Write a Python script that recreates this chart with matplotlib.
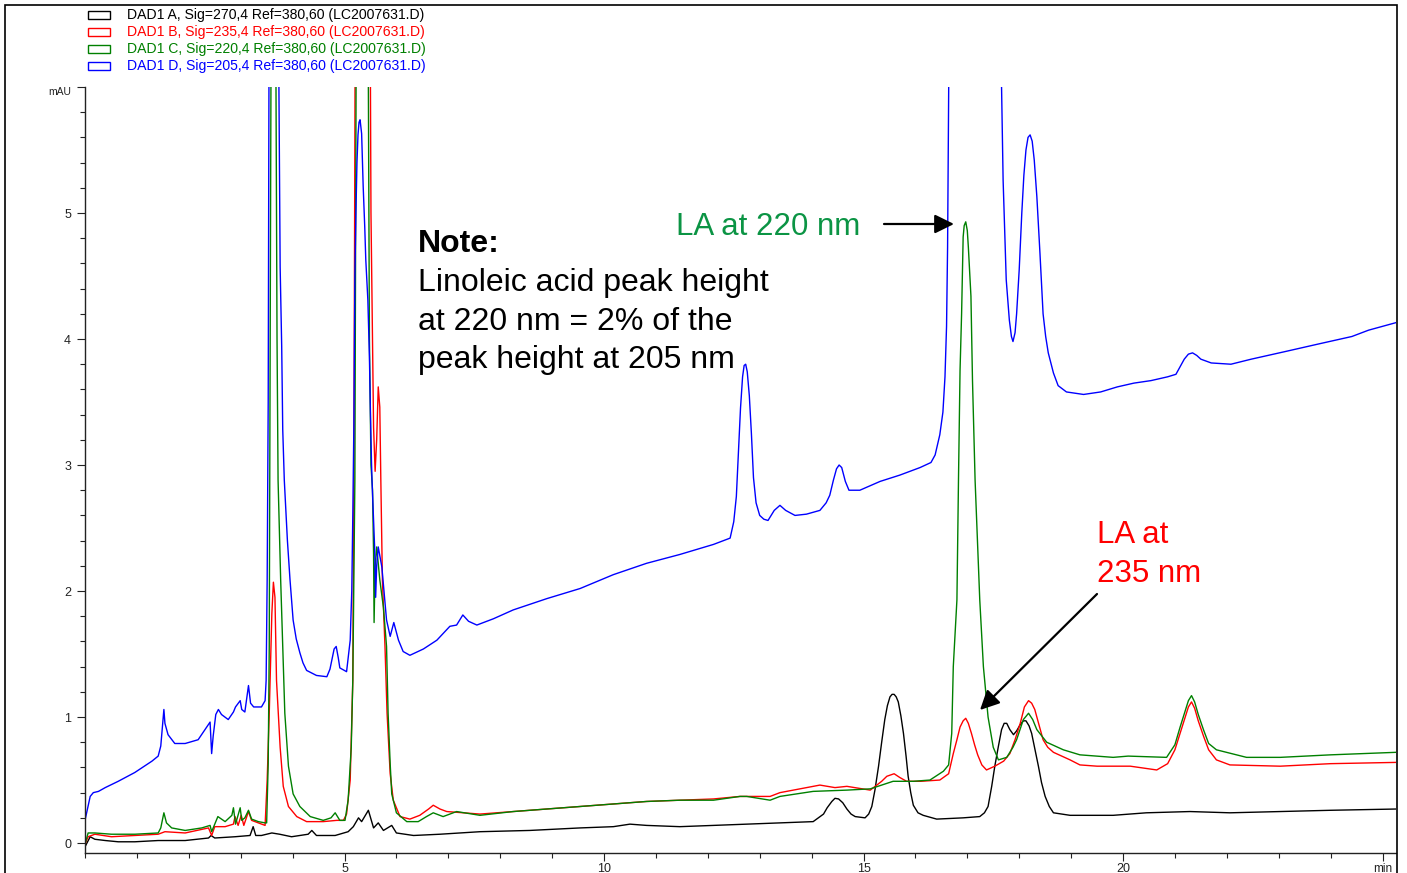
import matplotlib
matplotlib.use("Agg")
import matplotlib.pyplot as plt
from matplotlib.patches import Rectangle, FancyArrowPatch
from matplotlib.ticker import FixedLocator, MultipleLocator

plt.rcParams['font.family'] = ['Liberation Sans', 'DejaVu Sans']

# ---- chromatogram data: (time in min, absorbance in mAU) ----
# DAD1 A, 270 nm
trace_a = [
    (0.00, -0.03), (0.10, 0.05), (0.19, 0.03), (0.39, 0.02), (0.64, 0.01), (0.96, 0.01),
    (1.41, 0.02), (1.93, 0.02), (2.38, 0.04), (2.43, 0.06), (2.50, 0.04), (2.89, 0.05),
    (3.18, 0.06), (3.24, 0.13), (3.29, 0.06), (3.40, 0.06), (3.60, 0.08), (3.75, 0.07),
    (3.98, 0.05), (4.30, 0.07), (4.37, 0.10), (4.46, 0.06), (4.82, 0.06), (5.07, 0.09),
    (5.17, 0.13), (5.27, 0.20), (5.33, 0.17), (5.46, 0.26), (5.56, 0.12), (5.65, 0.16),
    (5.75, 0.10), (5.91, 0.14), (6.00, 0.08), (6.33, 0.06), (6.84, 0.07), (7.61, 0.09),
    (8.57, 0.10), (9.54, 0.12), (10.18, 0.13), (10.50, 0.15), (10.82, 0.14), (11.46, 0.13),
    (12.11, 0.14), (13.39, 0.16), (14.03, 0.17), (14.23, 0.23), (14.30, 0.28), (14.39, 0.33),
    (14.45, 0.355), (14.52, 0.35), (14.60, 0.32), (14.68, 0.27), (14.76, 0.23), (14.84, 0.21),
    (15.03, 0.20), (15.10, 0.23), (15.16, 0.29), (15.22, 0.42), (15.29, 0.61), (15.35, 0.80),
    (15.41, 0.98), (15.46, 1.09), (15.51, 1.16), (15.55, 1.18), (15.59, 1.18), (15.63, 1.16),
    (15.67, 1.12), (15.72, 1.01), (15.77, 0.87), (15.82, 0.69), (15.86, 0.53), (15.91, 0.40),
    (15.96, 0.30), (16.05, 0.24), (16.15, 0.22), (16.41, 0.19), (16.92, 0.20), (17.24, 0.21),
    (17.33, 0.24), (17.40, 0.29), (17.47, 0.45), (17.53, 0.61), (17.60, 0.77), (17.66, 0.90),
    (17.71, 0.95), (17.76, 0.95), (17.82, 0.90), (17.89, 0.86), (17.95, 0.89), (18.02, 0.94),
    (18.08, 0.97), (18.13, 0.97), (18.19, 0.93), (18.24, 0.87), (18.30, 0.75), (18.37, 0.61),
    (18.43, 0.48), (18.50, 0.37), (18.58, 0.29), (18.66, 0.24), (18.98, 0.22), (19.81, 0.22),
    (20.45, 0.24), (21.29, 0.25), (22.06, 0.24), (23.03, 0.25), (24.00, 0.26), (25.26, 0.27),
]

# DAD1 B, 235 nm
trace_b = [
    (0.00, -0.01), (0.06, 0.05), (0.19, 0.07), (0.51, 0.05), (0.96, 0.06), (1.41, 0.07),
    (1.54, 0.09), (1.93, 0.08), (2.38, 0.12), (2.44, 0.06), (2.50, 0.13), (2.70, 0.13),
    (2.86, 0.15), (2.89, 0.21), (2.95, 0.14), (3.01, 0.22), (3.06, 0.14), (3.15, 0.25),
    (3.21, 0.18), (3.34, 0.16), (3.47, 0.14), (3.51, 0.50), (3.55, 1.03), (3.60, 1.82),
    (3.63, 2.07), (3.66, 1.95), (3.69, 1.29), (3.76, 0.76), (3.82, 0.45), (3.92, 0.29),
    (4.08, 0.21), (4.27, 0.17), (4.59, 0.17), (4.85, 0.18), (4.98, 0.18), (5.04, 0.23),
    (5.11, 0.50), (5.16, 1.29), (5.18, 2.88), (5.21, 7.0), (5.35, 12.0), (5.49, 7.0),
    (5.51, 5.0), (5.53, 4.34), (5.56, 3.30), (5.59, 2.95), (5.62, 3.20), (5.65, 3.62),
    (5.68, 3.46), (5.70, 2.88), (5.73, 2.09), (5.78, 1.56), (5.82, 1.03), (5.88, 0.55),
    (5.94, 0.34), (6.07, 0.21), (6.26, 0.19), (6.45, 0.22), (6.62, 0.27), (6.71, 0.30),
    (6.84, 0.27), (6.97, 0.25), (7.61, 0.23), (8.25, 0.25), (8.90, 0.27), (9.54, 0.29),
    (10.18, 0.31), (10.82, 0.33), (11.46, 0.34), (12.11, 0.35), (12.62, 0.37), (13.20, 0.37),
    (13.39, 0.40), (14.16, 0.46), (14.45, 0.44), (14.68, 0.45), (15.13, 0.42), (15.35, 0.49),
    (15.45, 0.53), (15.59, 0.55), (15.70, 0.52), (15.83, 0.49), (16.10, 0.49), (16.47, 0.50),
    (16.64, 0.55), (16.73, 0.71), (16.80, 0.82), (16.86, 0.92), (16.92, 0.97), (16.97, 0.99),
    (17.02, 0.95), (17.08, 0.87), (17.14, 0.78), (17.20, 0.70), (17.28, 0.62), (17.37, 0.58),
    (17.53, 0.61), (17.70, 0.65), (17.82, 0.71), (17.92, 0.82), (18.02, 0.95), (18.10, 1.08),
    (18.18, 1.13), (18.24, 1.11), (18.30, 1.06), (18.38, 0.94), (18.46, 0.82), (18.55, 0.76),
    (18.66, 0.72), (18.98, 0.66), (19.17, 0.62), (19.50, 0.61), (20.14, 0.61), (20.65, 0.58),
    (20.86, 0.63), (21.00, 0.74), (21.10, 0.87), (21.20, 1.00), (21.26, 1.08), (21.32, 1.12),
    (21.38, 1.07), (21.45, 0.97), (21.55, 0.85), (21.65, 0.74), (21.80, 0.66), (22.06, 0.62),
    (23.03, 0.61), (24.00, 0.63), (25.26, 0.64),
]

# DAD1 C, 220 nm
trace_c = [
    (0.00, -0.01), (0.06, 0.08), (0.19, 0.08), (0.51, 0.07), (0.96, 0.07), (1.41, 0.08),
    (1.46, 0.12), (1.52, 0.24), (1.57, 0.16), (1.67, 0.12), (1.93, 0.10), (2.25, 0.12),
    (2.41, 0.14), (2.44, 0.09), (2.56, 0.21), (2.70, 0.17), (2.83, 0.22), (2.86, 0.28),
    (2.90, 0.15), (2.99, 0.28), (3.02, 0.18), (3.08, 0.20), (3.15, 0.26), (3.21, 0.19),
    (3.34, 0.17), (3.47, 0.16), (3.50, 0.16), (3.53, 0.63), (3.55, 1.56), (3.56, 2.88),
    (3.59, 7.0), (3.63, 12.0), (3.67, 7.0), (3.70, 4.0), (3.72, 2.88), (3.77, 2.09),
    (3.81, 1.56), (3.85, 1.03), (3.92, 0.61), (4.01, 0.39), (4.14, 0.29), (4.34, 0.21),
    (4.59, 0.18), (4.74, 0.20), (4.82, 0.24), (4.91, 0.18), (5.01, 0.18), (5.07, 0.34),
    (5.13, 0.76), (5.16, 1.29), (5.18, 2.09), (5.20, 2.88), (5.23, 7.0), (5.35, 12.0),
    (5.45, 7.0), (5.48, 4.0), (5.51, 3.0), (5.54, 2.8), (5.56, 2.3), (5.57, 1.75),
    (5.59, 2.2), (5.62, 2.35), (5.68, 2.09), (5.75, 1.87), (5.81, 1.56), (5.84, 1.03),
    (5.88, 0.63), (5.91, 0.39), (6.00, 0.24), (6.20, 0.17), (6.42, 0.17), (6.58, 0.21),
    (6.71, 0.24), (6.90, 0.21), (7.16, 0.25), (7.61, 0.22), (8.25, 0.25), (8.90, 0.27),
    (9.54, 0.29), (10.18, 0.31), (10.82, 0.33), (11.46, 0.34), (12.11, 0.34), (12.62, 0.37),
    (12.75, 0.37), (13.20, 0.34), (13.39, 0.37), (14.03, 0.41), (14.68, 0.42), (15.13, 0.43),
    (15.57, 0.49), (15.96, 0.49), (16.28, 0.50), (16.54, 0.57), (16.64, 0.62), (16.70, 0.87),
    (16.73, 1.40), (16.80, 1.93), (16.83, 2.88), (16.86, 3.75), (16.89, 4.20), (16.92, 4.81),
    (16.94, 4.90), (16.97, 4.93), (17.00, 4.86), (17.02, 4.73), (17.07, 4.34), (17.10, 3.67),
    (17.15, 2.88), (17.24, 1.93), (17.31, 1.40), (17.40, 1.00), (17.50, 0.76), (17.60, 0.66),
    (17.76, 0.68), (17.88, 0.76), (17.95, 0.82), (18.08, 0.98), (18.18, 1.03), (18.26, 0.98),
    (18.34, 0.90), (18.53, 0.80), (18.85, 0.74), (19.17, 0.70), (19.81, 0.68), (20.10, 0.69),
    (20.84, 0.68), (21.00, 0.78), (21.10, 0.92), (21.20, 1.05), (21.26, 1.13), (21.32, 1.17),
    (21.38, 1.12), (21.45, 1.02), (21.55, 0.90), (21.65, 0.79), (21.80, 0.74), (22.38, 0.68),
    (23.03, 0.68), (24.00, 0.70), (25.26, 0.72),
]

# DAD1 D, 205 nm
trace_d = [
    (0.00, 0.18), (0.10, 0.37), (0.16, 0.40), (0.26, 0.41), (0.39, 0.44), (0.64, 0.49),
    (0.96, 0.56), (1.29, 0.65), (1.41, 0.69), (1.46, 0.77), (1.52, 1.06), (1.54, 0.95),
    (1.60, 0.86), (1.73, 0.79), (1.93, 0.79), (2.18, 0.82), (2.31, 0.90), (2.41, 0.96),
    (2.44, 0.71), (2.47, 0.85), (2.52, 1.02), (2.57, 1.06), (2.63, 1.02), (2.76, 0.98),
    (2.86, 1.04), (2.90, 1.08), (2.99, 1.13), (3.02, 1.06), (3.08, 1.04), (3.15, 1.25),
    (3.19, 1.11), (3.25, 1.08), (3.40, 1.08), (3.47, 1.13), (3.49, 1.29), (3.51, 2.09),
    (3.53, 3.50), (3.55, 7.0), (3.65, 12.0), (3.72, 7.0), (3.74, 5.76), (3.76, 4.57),
    (3.79, 3.94), (3.81, 3.28), (3.84, 2.88), (3.90, 2.40), (3.95, 2.09), (4.01, 1.77),
    (4.07, 1.62), (4.14, 1.51), (4.20, 1.43), (4.27, 1.37), (4.46, 1.33), (4.66, 1.32),
    (4.72, 1.38), (4.77, 1.48), (4.80, 1.54), (4.84, 1.56), (4.88, 1.47), (4.91, 1.39),
    (5.04, 1.36), (5.11, 1.61), (5.14, 2.00), (5.16, 2.60), (5.18, 3.30), (5.20, 4.50),
    (5.22, 5.00), (5.24, 5.40), (5.26, 5.62), (5.28, 5.72), (5.30, 5.74), (5.33, 5.63),
    (5.36, 5.21), (5.39, 4.89), (5.41, 4.63), (5.45, 4.31), (5.48, 3.86), (5.50, 3.41),
    (5.52, 3.02), (5.53, 2.88), (5.56, 2.56), (5.58, 2.35), (5.60, 1.95), (5.62, 2.20),
    (5.65, 2.35), (5.72, 2.19), (5.81, 1.77), (5.88, 1.64), (5.95, 1.75), (6.04, 1.61),
    (6.13, 1.52), (6.26, 1.49), (6.52, 1.54), (6.78, 1.61), (7.03, 1.72), (7.16, 1.73),
    (7.28, 1.81), (7.39, 1.76), (7.55, 1.73), (7.87, 1.78), (8.25, 1.85), (8.90, 1.94),
    (9.54, 2.02), (10.18, 2.13), (10.82, 2.22), (11.46, 2.29), (12.11, 2.37), (12.43, 2.42),
    (12.50, 2.55), (12.55, 2.75), (12.59, 3.10), (12.63, 3.45), (12.67, 3.70), (12.70, 3.79),
    (12.73, 3.80), (12.76, 3.74), (12.80, 3.55), (12.84, 3.25), (12.88, 2.90), (12.93, 2.70),
    (13.00, 2.60), (13.08, 2.57), (13.16, 2.56), (13.28, 2.64), (13.39, 2.68), (13.50, 2.64),
    (13.68, 2.60), (13.90, 2.61), (14.16, 2.64), (14.28, 2.70), (14.35, 2.76), (14.42, 2.88),
    (14.48, 2.97), (14.53, 3.00), (14.58, 2.98), (14.65, 2.87), (14.72, 2.80), (14.93, 2.80),
    (15.32, 2.87), (15.70, 2.92), (16.09, 2.98), (16.30, 3.02), (16.38, 3.08), (16.47, 3.24),
    (16.53, 3.42), (16.57, 3.70), (16.60, 4.10), (16.62, 4.73), (16.65, 6.50), (16.75, 40.0),
    (16.97, 220.0), (17.20, 60.0), (17.60, 8.0), (17.66, 6.00), (17.69, 5.26), (17.75, 4.47),
    (17.81, 4.15), (17.85, 4.02), (17.88, 3.98), (17.92, 4.05), (17.95, 4.20), (18.00, 4.55),
    (18.05, 5.00), (18.09, 5.30), (18.13, 5.50), (18.17, 5.60), (18.21, 5.62), (18.25, 5.57),
    (18.29, 5.42), (18.34, 5.13), (18.40, 4.68), (18.46, 4.20), (18.51, 4.02), (18.56, 3.89),
    (18.66, 3.73), (18.75, 3.63), (18.91, 3.58), (19.24, 3.56), (19.57, 3.58), (19.89, 3.62),
    (20.21, 3.65), (20.54, 3.67), (20.86, 3.70), (21.02, 3.72), (21.10, 3.78), (21.18, 3.84),
    (21.26, 3.88), (21.34, 3.89), (21.42, 3.87), (21.50, 3.84), (21.70, 3.81), (22.08, 3.80),
    (22.47, 3.84), (23.12, 3.90), (23.76, 3.96), (24.41, 4.02), (24.73, 4.07), (25.26, 4.13),
]

legend_labels = ["DAD1 A, Sig=270,4 Ref=380,60 (LC2007631.D)",
                 "DAD1 B, Sig=235,4 Ref=380,60 (LC2007631.D)",
                 "DAD1 C, Sig=220,4 Ref=380,60 (LC2007631.D)",
                 "DAD1 D, Sig=205,4 Ref=380,60 (LC2007631.D)"]
trace_colors = ["#000000", "#ff0000", "#008000", "#0000ff"]

x_ticks = [5, 10, 15, 20, 25]
x_tick_labels = ["5", "10", "15", "20", "min"]
y_ticks = [0, 1, 2, 3, 4, 5, 6]
y_tick_labels = ["0", "1", "2", "3", "4", "5", "mAU"]

# ---- figure layout in pixels ----
W, H, DPI = 1407, 873, 100
fig = plt.figure(figsize=(W / DPI, H / DPI), dpi=DPI)
fig.patch.set_facecolor("white")


def fx(px):
    return px / W


def fy(py):
    return 1 - py / H


ax = fig.add_axes([fx(85), fy(853), fx(1396) - fx(85), fy(87) - fy(853)])
ax.set_xlim(0, 25.26)
ax.set_ylim(-0.079, 6.0)

for trace, col in zip([trace_a, trace_b, trace_c, trace_d], trace_colors):
    t = [p[0] for p in trace]
    s = [p[1] for p in trace]
    ax.plot(t, s, color=col, lw=1.0)

for side in ("top", "right"):
    ax.spines[side].set_visible(False)
for side in ("left", "bottom"):
    ax.spines[side].set_color("#222222")
    ax.spines[side].set_linewidth(1.0)

ax.xaxis.set_major_locator(FixedLocator(x_ticks))
ax.set_xticklabels(x_tick_labels)
ax.xaxis.set_minor_locator(MultipleLocator(1))
ax.yaxis.set_major_locator(FixedLocator(y_ticks))
ax.set_yticklabels(y_tick_labels)
ax.yaxis.set_minor_locator(MultipleLocator(0.2))
ax.tick_params(which="major", direction="out", length=6, width=0.8, color="#222222",
               labelsize=9, labelcolor="#222222")
ax.tick_params(which="minor", direction="out", length=3.5, width=0.8, color="#222222")
ax.tick_params(axis="x", which="major", pad=1)
ax.tick_params(axis="y", which="major", pad=4)
mau = ax.get_yticklabels()[-1]
mau.set_fontsize(7.5)
mau.set_va("top")
ax.get_xticklabels()[-1].set_fontsize(8.5)

# outer frame
fig.add_artist(Rectangle((fx(5), fy(885)), fx(1392), 880 / H, transform=fig.transFigure,
                         fill=False, edgecolor="black", lw=1.2))

# legend
for i, (lab, col) in enumerate(zip(legend_labels, trace_colors)):
    yc = 14.5 + 17.3 * i
    fig.add_artist(Rectangle((fx(88), fy(yc + 4)), fx(22), 8 / H, transform=fig.transFigure,
                             fill=False, edgecolor=col, lw=1.0))
    fig.text(fx(127), fy(yc), lab, color=col, fontsize=10.1, va="center", ha="left")

# note text
note_lines = ["Linoleic acid peak height", "at 220 nm = 2% of the", "peak height at 205 nm"]
fig.text(fx(418), fy(252), "Note:", fontsize=23, fontweight="bold", va="baseline")
for i, line in enumerate(note_lines):
    fig.text(fx(418), fy(291 + 38.5 * i), line, fontsize=23, va="baseline")

# peak labels
fig.text(fx(676), fy(235), "LA at 220 nm", fontsize=22.5, color="#0b9444", va="baseline")
fig.text(fx(1097), fy(543), "LA at", fontsize=22.5, color="#ff0000", va="baseline")
fig.text(fx(1097), fy(582), "235 nm", fontsize=22.5, color="#ff0000", va="baseline")

arrow_style = "-|>,head_length=0.65,head_width=0.32"
fig.add_artist(FancyArrowPatch((fx(884), fy(224)), (fx(954), fy(224)),
                               transform=fig.transFigure, arrowstyle=arrow_style,
                               mutation_scale=18, color="black", lw=1.6,
                               shrinkA=0, shrinkB=0))
fig.add_artist(FancyArrowPatch((fx(1097), fy(594)), (fx(980), fy(710)),
                               transform=fig.transFigure, arrowstyle=arrow_style,
                               mutation_scale=18, color="black", lw=1.6,
                               shrinkA=0, shrinkB=0))

fig.savefig("out.png", dpi=DPI)
